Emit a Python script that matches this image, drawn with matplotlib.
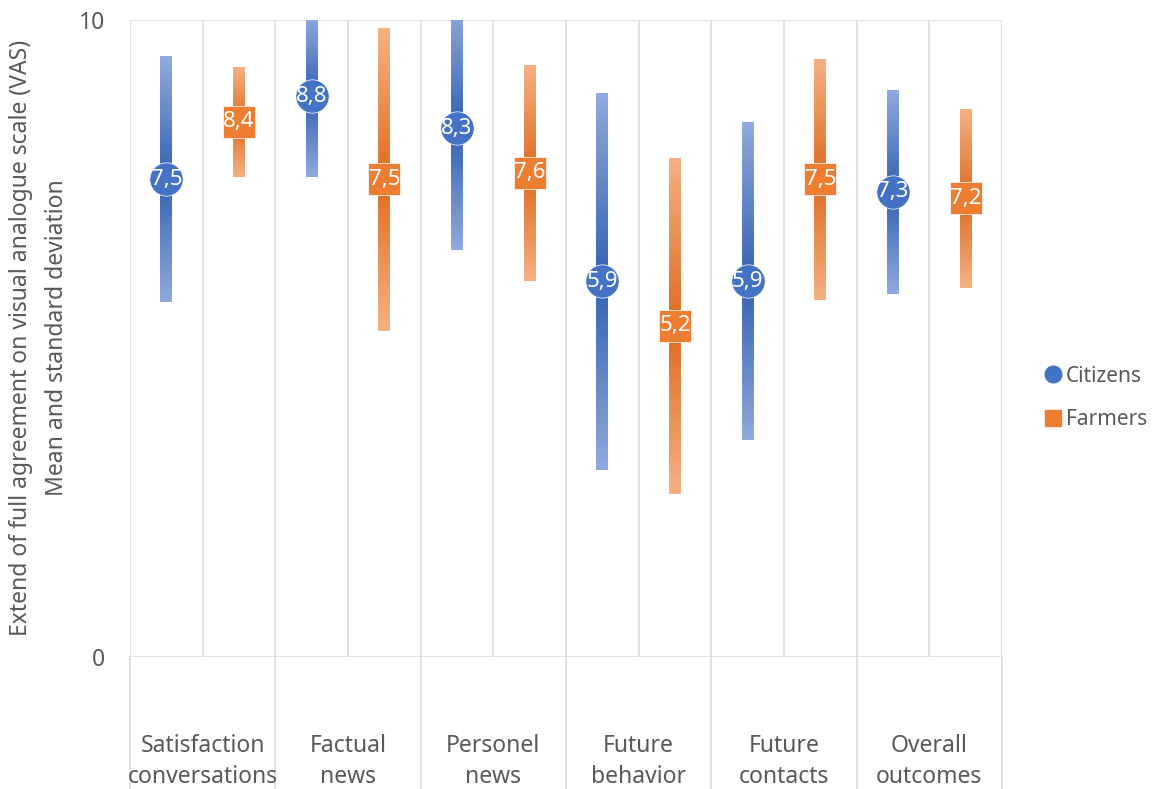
import numpy as np
import matplotlib.pyplot as plt
import matplotlib.transforms as mtransforms
from matplotlib.collections import LineCollection
from matplotlib.colors import to_rgb
from matplotlib.lines import Line2D

plt.rcParams['font.family'] = ['Noto Sans', 'DejaVu Sans']

categories = ['Satisfaction\nconversations', 'Factual\nnews', 'Personel\nnews',
              'Future\nbehavior', 'Future\ncontacts', 'Overall\noutcomes']
citizens_mean = [7.5, 8.8, 8.3, 5.9, 5.9, 7.3]
citizens_sd = [1.93, 1.26, 1.91, 2.96, 2.5, 1.6]
farmers_mean = [8.4, 7.5, 7.6, 5.2, 7.5, 7.2]
farmers_sd = [0.86, 2.38, 1.7, 2.64, 1.89, 1.41]

BLUE = '#4472C4'
ORANGE = '#ED7D31'
GRID = '#D9D9D9'
TXT = '#595959'
FS = 16.5


def grad_bar(ax, x, m, sd, light, dark, lw):
    # error bar drawn as small pieces, dark at the mean, light at the ends
    ys = np.linspace(m - sd, m + sd, 81)
    segs = [[(x, ys[k]), (x, ys[k + 1])] for k in range(len(ys) - 1)]
    mid = (ys[:-1] + ys[1:]) / 2
    t = np.abs(mid - m) / sd
    l = np.array(to_rgb(light))
    d = np.array(to_rgb(dark))
    cols = [tuple(d * (1 - tt) + l * tt) for tt in t]
    lc = LineCollection(segs, colors=cols, linewidths=lw, capstyle='butt', zorder=3)
    ax.add_collection(lc)


fig = plt.figure(figsize=(11.62, 7.89), dpi=100)
ax = fig.add_axes([130 / 1162, 132 / 789, 872 / 1162, 637 / 789])
ax.set_xlim(0, 12)
ax.set_ylim(0, 10)

# grid
for gx in range(13):
    ax.axvline(gx, color=GRID, lw=1.1, zorder=1)
trans = mtransforms.blended_transform_factory(ax.transData, ax.transAxes)
for gx in range(0, 13, 2):
    ax.plot([gx, gx], [0, -0.3], color=GRID, lw=1.1, transform=trans, clip_on=False, zorder=1)
for gy in [0, 10]:
    ax.axhline(gy, color=GRID, lw=1.1, zorder=1)

for s in ax.spines.values():
    s.set_visible(False)

xc = np.arange(len(categories)) * 2 + 0.5
xf = np.arange(len(categories)) * 2 + 1.5

for i in range(len(categories)):
    grad_bar(ax, xc[i], citizens_mean[i], citizens_sd[i], '#8FAADC', '#3360B0', 8.6)
    grad_bar(ax, xf[i], farmers_mean[i], farmers_sd[i], '#F4B183', '#DD6A1E', 8.6)

ax.plot(xc, citizens_mean, 'o', ms=24, color=BLUE, mec='white', mew=0.5, zorder=4, clip_on=False)
ax.plot(xf, farmers_mean, 's', ms=23, color=ORANGE, mec='white', mew=0.5, zorder=4, clip_on=False)

for i in range(len(categories)):
    ax.text(xc[i], citizens_mean[i], '{:.1f}'.format(citizens_mean[i]).replace('.', ','),
            ha='center', va='center', color='white', fontsize=16, zorder=5)
    ax.text(xf[i], farmers_mean[i], '{:.1f}'.format(farmers_mean[i]).replace('.', ','),
            ha='center', va='center', color='white', fontsize=16, zorder=5)

ax.set_xticks([])
ax.set_yticks([0, 10])
ax.set_yticklabels(['0', '10'], fontsize=FS, color=TXT)
ax.tick_params(axis='y', length=0, pad=18)

for i, c in enumerate(categories):
    ax.text(2 * i + 1, -0.164, c, transform=trans, ha='center', va='center',
            fontsize=FS, color=TXT, linespacing=1.42)

fig.text(39 / 1162, 1 - 338 / 789,
         'Extend of full agreement on visual analogue scale (VAS)\nMean and standard deviation',
         rotation=90, ha='center', va='center', fontsize=FS, color=TXT, linespacing=1.7)

handles = [Line2D([], [], marker='o', ls='', color=BLUE, ms=12),
           Line2D([], [], marker='s', ls='', color=ORANGE, ms=11)]
fig.legend(handles, ['Citizens', 'Farmers'], loc='center left',
           bbox_to_anchor=(1024 / 1162, 1 - 398 / 789), frameon=False,
           fontsize=15, labelcolor=TXT, handletextpad=0.1, labelspacing=1.1,
           handlelength=1.0)

fig.savefig('out.png', dpi=100)
